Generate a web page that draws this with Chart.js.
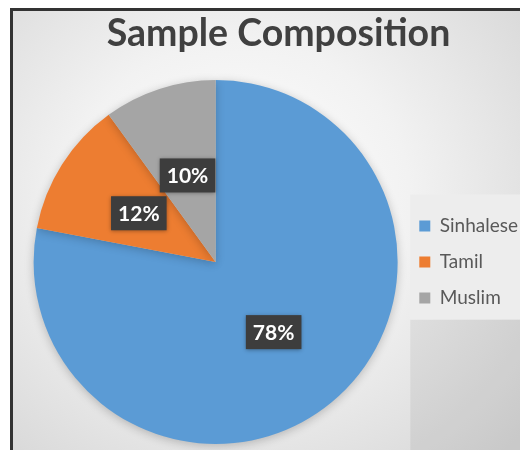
<!DOCTYPE html>
<html>
<head>
<meta charset="utf-8">
<script src="https://cdn.jsdelivr.net/npm/chart.js@4"></script>
<style>
  html, body { margin: 0; padding: 0; width: 520px; height: 450px; overflow: hidden; background: #fff; }
  #frame {
    position: absolute; left: 10px; top: 8px; width: 540px; height: 470px;
    border-left: 3px solid #333; border-top: 3px solid #333;
    background: radial-gradient(ellipse 70% 75% at 42% 40%, #ffffff 0%, #f2f2f2 45%, #d6d6d6 100%);
  }
  #pie-chart { position: absolute; left: 0; top: 0; }
</style>
</head>
<body>
<div id="frame"><canvas id="pie-chart" width="530" height="450"></canvas></div>
<script>
const groups = ['Sinhalese', 'Tamil', 'Muslim'];
const shares = [78, 12, 10];
const sliceColors = ['#5B9BD5', '#ED7D31', '#A5A5A5'];

// soft shadow under the pie
const pieShadow = {
    id: 'pieShadow',
    beforeDatasetsDraw(chart) {
        const ctx = chart.ctx;
        ctx.save();
        ctx.shadowColor = 'rgba(0,0,0,0.22)';
        ctx.shadowBlur = 10;
        ctx.shadowOffsetY = 2;
    },
    afterDatasetsDraw(chart) {
        chart.ctx.restore();
    }
};

// lighter panel behind the legend
const legendPanel = {
    id: 'legendPanel',
    beforeDraw(chart) {
        const legend = chart.legend;
        const boxes = legend.legendHitBoxes;
        if (!boxes || !boxes.length) return;
        const ctx = chart.ctx;
        const left = legend.left + 8;
        const top = boxes[0].top - 22;
        const bottom = boxes[boxes.length - 1].top + boxes[boxes.length - 1].height + 12;
        ctx.save();
        ctx.fillStyle = 'rgba(0,0,0,0.06)';
        ctx.fillRect(left, bottom, chart.width - left, chart.height - bottom);
        ctx.fillStyle = '#ededed';
        ctx.fillRect(left, top, chart.width - left, bottom - top);
        ctx.restore();
    }
};

// percentage tags in dark boxes
const sliceTags = {
    id: 'sliceTags',
    afterDatasetsDraw(chart) {
        const ctx = chart.ctx;
        const meta = chart.getDatasetMeta(0);
        const total = shares.reduce((a, b) => a + b, 0);
        ctx.save();
        ctx.font = 'bold 21px Lato';
        ctx.textAlign = 'center';
        ctx.textBaseline = 'middle';
        meta.data.forEach((arc, i) => {
            const pos = arc.tooltipPosition();
            const text = Math.round(shares[i] / total * 100) + '%';
            const w = ctx.measureText(text).width + 14;
            const h = 34;
            ctx.shadowColor = 'rgba(0,0,0,0.35)';
            ctx.shadowBlur = 4;
            ctx.shadowOffsetY = 1;
            ctx.fillStyle = '#3d3d3d';
            ctx.fillRect(pos.x - w / 2, pos.y - h / 2, w, h);
            ctx.shadowColor = 'transparent';
            ctx.fillStyle = '#ffffff';
            ctx.fillText(text, pos.x, pos.y + 1);
        });
        ctx.restore();
    }
};

new Chart(document.querySelector('#pie-chart'), {
    type: 'pie',
    data: {
        labels: groups,
        datasets: [{
            data: shares,
            backgroundColor: sliceColors,
            borderWidth: 0
        }]
    },
    options: {
        responsive: false,
        animation: false,
        layout: { padding: { left: 16, right: 15, top: 0, bottom: 17 } },
        plugins: {
            title: {
                display: true,
                text: 'Sample Composition',
                color: '#404040',
                font: { family: 'Lato', size: 37.5, weight: 'bold' },
                padding: { top: 0, bottom: 24 }
            },
            legend: {
                position: 'right',
                fullSize: false,
                labels: {
                    color: '#595959',
                    font: { family: 'Lato', size: 19 },
                    boxWidth: 11,
                    boxHeight: 11,
                    padding: 17
                }
            },
            tooltip: { enabled: false }
        }
    },
    plugins: [legendPanel, pieShadow, sliceTags]
});
</script>
</body>
</html>
